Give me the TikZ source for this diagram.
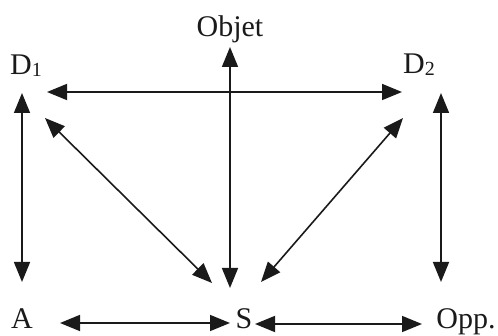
\documentclass[tikz,border=0pt]{standalone}
\usepackage{fontspec}
\setmainfont{Liberation Serif}
\usetikzlibrary{arrows.meta,calc}
\definecolor{ink}{HTML}{1A1A1A}
\newcommand{\subsc}[1]{{\fontsize{20}{20}\selectfont\raisebox{-1.5pt}{#1}}}
\begin{document}
\begin{tikzpicture}[x=1pt,y=-1pt,
  lbl/.style={anchor=base,inner sep=0pt,text=ink,font=\fontsize{30}{36}\selectfont},
  arr/.style={{Triangle[length=20pt,width=16pt]}-{Triangle[length=20pt,width=16pt]},line width=1.6pt,draw=ink}]
\useasboundingbox (0,0) rectangle (498,336);
\node[lbl] (Obj) at (230,37) {Objet};
\node[lbl] (D1) at (26,75) {D\subsc{1}};
\node[lbl] (D2) at (419,74) {D\subsc{2}};
\node[lbl] (A) at (22,329) {A};
\node[lbl] (S) at (244,329) {S};
\node[lbl] (Opp) at (466,329) {Opp.};
\draw[arr] ($(D1.base)+(21,17)$) -- ($(D2.base)+(-17,18)$);
\draw[arr] ($(D1.base)+(-4,18)$) -- ($(A.base)+(0,-47)$);
\draw[arr] ($(D2.base)+(22,19)$) -- ($(Opp.base)+(-25,-47)$);
\draw[arr] ($(Obj.base)+(0,10)$) -- ($(S.base)+(-14,-41)$);
\draw[arr] ($(D1.base)+(19,43)$) -- ($(S.base)+(-32,-46)$);
\draw[arr] ($(D2.base)+(-16,44)$) -- ($(S.base)+(17,-47)$);
\draw[arr] ($(A.base)+(38,-6)$) -- ($(S.base)+(-14,-6)$);
\draw[arr] ($(S.base)+(11,-5)$) -- ($(Opp.base)+(-44,-5)$);
\end{tikzpicture}
\end{document}
